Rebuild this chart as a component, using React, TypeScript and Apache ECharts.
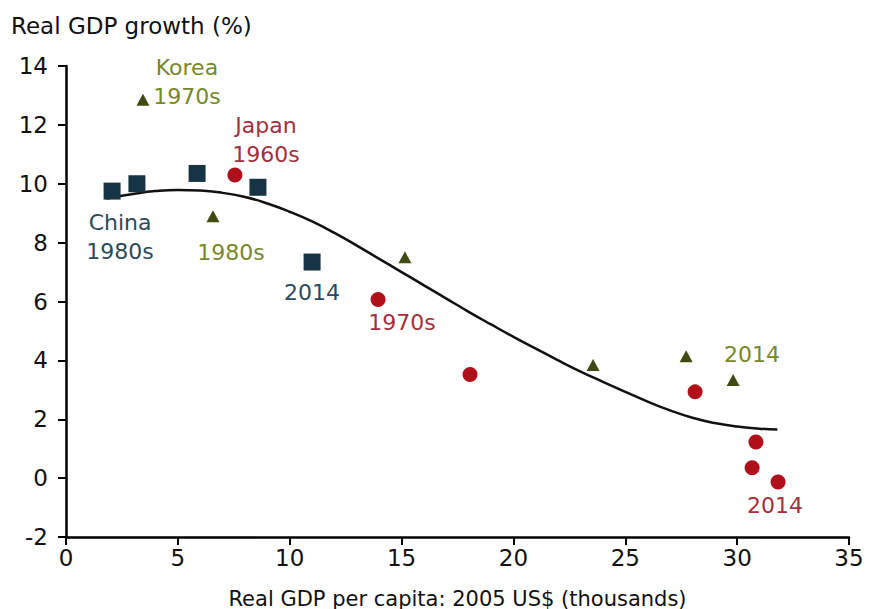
import React, { useEffect, useRef } from "react";
import * as echarts from "echarts";

// China (squares): [GDP per capita (thousands 2005 US$), real GDP growth %]
const chinaPoints: number[][] = [
  [2.06, 9.75],
  [3.17, 10.0],
  [5.86, 10.35],
  [8.58, 9.88],
  [11.0, 7.34],
];
// Korea (triangles)
const koreaPoints: number[][] = [
  [3.44, 12.85],
  [6.57, 8.9],
  [15.15, 7.5],
  [23.56, 3.84],
  [27.72, 4.14],
  [29.82, 3.33],
];
// Japan (circles)
const japanPoints: number[][] = [
  [7.55, 10.3],
  [13.95, 6.07],
  [18.06, 3.52],
  [28.12, 2.93],
  [30.84, 1.23],
  [30.67, 0.35],
  [31.83, -0.13],
];
// Fitted trend line
const trendPoints: number[][] = [
  [1.8, 9.5], [3, 9.65], [4, 9.75], [5, 9.79], [6, 9.77], [7, 9.69],
  [8, 9.55], [9, 9.33], [10, 9.05], [11, 8.72], [12, 8.33], [13, 7.9],
  [14, 7.45], [15, 7.0], [16, 6.55], [17, 6.1], [18, 5.65], [19, 5.22],
  [20, 4.8], [21, 4.4], [22, 4.0], [23, 3.62], [24, 3.27], [25, 2.93],
  [26, 2.6], [27, 2.3], [28, 2.05], [29, 1.87], [30, 1.75], [31, 1.68],
  [31.8, 1.65],
];

// Annotation labels: [point index, text]
const chinaNotes: [number, string][] = [
  [0, "China\n1980s"],
  [4, "2014"],
];
const koreaNotes: [number, string][] = [
  [0, "Korea\n1970s"],
  [1, "1980s"],
  [5, "2014"],
];
const japanNotes: [number, string][] = [
  [0, "Japan\n1960s"],
  [1, "1970s"],
  [6, "2014"],
];

const xTicks = { min: 0, max: 35, interval: 5 };
const yTicks = { min: -2, max: 14, interval: 2 };

const xTitle = "Real GDP per capita: 2005 US$ (thousands)";
const yTitle = "Real GDP growth (%)";

const FONT = "DejaVu Sans";
const C_CHINA = "#163443";
const C_CHINA_TXT = "#2b4a5a";
const C_KOREA = "#3f4b10";
const C_KOREA_TXT = "#77872a";
const C_JAPAN = "#b0101a";
const C_JAPAN_TXT = "#a3303c";

// pixel offsets of labels relative to their points (style only)
const chinaOffsets: number[][] = [[8, 46], [0, 30]];
const koreaOffsets: number[][] = [[44, -18], [18, 36], [19, -26]];
const japanOffsets: number[][] = [[31, -35], [24, 23], [-3, 24]];

function withLabels(
  pts: number[][],
  notes: [number, string][],
  offsets: number[][],
  color: string
) {
  return pts.map((p, i) => {
    const k = notes.findIndex((n) => n[0] === i);
    if (k < 0) return { value: p };
    return {
      value: p,
      label: {
        show: true,
        position: "inside",
        formatter: notes[k][1],
        offset: offsets[k],
        color,
        fontFamily: FONT,
        fontSize: 22,
        lineHeight: 29,
        align: "center",
        verticalAlign: "middle",
      },
    };
  });
}

export default function App() {
  const ref = useRef<HTMLDivElement>(null);
  useEffect(() => {
    document.body.style.margin = "0";
    const chart = echarts.init(ref.current!, null, { renderer: "svg" });
    chart.setOption({
      animation: false,
      backgroundColor: "#ffffff",
      grid: {
        left: 66,
        right: 20,
        top: 66,
        bottom: 72,
        containLabel: false,
        outerBoundsMode: "none",
      },
      graphic: [
        {
          type: "text",
          left: 11,
          top: 14,
          style: {
            text: yTitle,
            fontFamily: FONT,
            fontSize: 23,
            fill: "#111",
          },
        },
      ],
      xAxis: {
        type: "value",
        min: xTicks.min,
        max: xTicks.max,
        interval: xTicks.interval,
        splitLine: { show: false },
        axisLine: { onZero: false, lineStyle: { color: "#000", width: 2.5 } },
        axisTick: { show: true, length: 8, lineStyle: { color: "#000", width: 2 } },
        axisLabel: {
          margin: 9,
          color: "#111",
          fontFamily: FONT,
          fontSize: 23,
        },
        name: xTitle,
        nameLocation: "middle",
        nameGap: 51,
        nameTextStyle: { color: "#111", fontFamily: FONT, fontSize: 21 },
      },
      yAxis: {
        type: "value",
        min: yTicks.min,
        max: yTicks.max,
        interval: yTicks.interval,
        splitLine: { show: false },
        axisLine: { show: true, onZero: false, lineStyle: { color: "#000", width: 2.5 } },
        axisTick: { show: true, length: 8, lineStyle: { color: "#000", width: 2 } },
        axisLabel: {
          margin: 18,
          color: "#111",
          fontFamily: FONT,
          fontSize: 23,
        },
      },
      series: [
        {
          type: "line",
          data: trendPoints,
          symbol: "none",
          smooth: true,
          lineStyle: { color: "#111", width: 2.5 },
          z: 1,
        },
        {
          type: "scatter",
          name: "China",
          symbol: "rect",
          symbolSize: 17,
          itemStyle: { color: C_CHINA, opacity: 1 },
          data: withLabels(chinaPoints, chinaNotes, chinaOffsets, C_CHINA_TXT),
          z: 3,
        },
        {
          type: "scatter",
          name: "Korea",
          symbol: "triangle",
          symbolSize: [13, 12],
          itemStyle: { color: C_KOREA, opacity: 1 },
          data: withLabels(koreaPoints, koreaNotes, koreaOffsets, C_KOREA_TXT),
          z: 3,
        },
        {
          type: "scatter",
          name: "Japan",
          symbol: "circle",
          symbolSize: 15,
          itemStyle: { color: C_JAPAN, opacity: 1 },
          data: withLabels(japanPoints, japanNotes, japanOffsets, C_JAPAN_TXT),
          z: 3,
        },
      ],
    });
    return () => chart.dispose();
  }, []);
  return <div ref={ref} style={{ width: 869, height: 609 }} />;
}
